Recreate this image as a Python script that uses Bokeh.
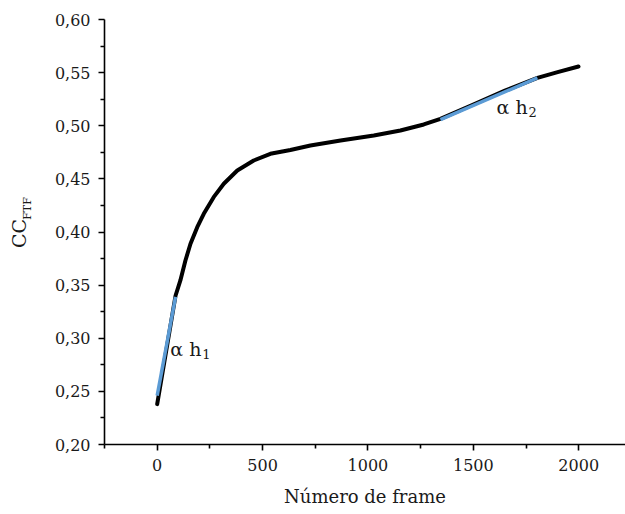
import math
from bokeh.plotting import figure
from bokeh.layouts import row
from bokeh.models import Range1d, FixedTicker, CustomJSTickFormatter, Label
from bokeh.core.properties import value
from bokeh.embed import file_html
from bokeh.resources import INLINE

# Data
frame_x = [0, 87, 110, 134, 158, 190, 221, 268, 316, 380, 458, 537, 632, 727, 870, 1028,
           1154, 1265, 1344, 1500, 1650, 1804, 1900, 1999]
cc_ftf = [0.238, 0.340, 0.3544, 0.3732, 0.3889, 0.4045, 0.4171, 0.4328, 0.4454, 0.4579, 0.4673,
          0.4736, 0.4772, 0.4814, 0.4861, 0.4908, 0.4955, 0.5012, 0.5065, 0.520, 0.533, 0.545,
          0.5505, 0.5558]
h1_x = [0, 87]
h1_y = [0.246, 0.339]
h2_x = [1344, 1804]
h2_y = [0.5058, 0.5450]
x_ticks = [0, 500, 1000, 1500, 2000]
x_minor = [-250, 250, 750, 1250, 1750]
y_ticks = [0.20, 0.25, 0.30, 0.35, 0.40, 0.45, 0.50, 0.55, 0.60]
y_minor = [0.225, 0.275, 0.325, 0.375, 0.425, 0.475, 0.525, 0.575]
ann_text = ["α h", "α h"]
ann_sub = ["1", "2"]
ann_x = [62, 1610]
ann_y = [0.290, 0.518]
y_title = "CC"
y_title_sub = "FTF"

FONT = "DejaVu Serif"
TXT = "#1a1a1a"
LEFT_W = 40
H = 514
TOP, BOTTOM = 19, 70

# Narrow side figure that carries the y-axis title (CC with subscript FTF).
# Its frame is aligned with the main plot's frame by the row layout, so its
# y range is expressed in canvas pixels measured from the bottom.
lf = figure(width=LEFT_W, height=H, output_backend="svg", toolbar_location=None,
            x_range=Range1d(0, LEFT_W), y_range=Range1d(BOTTOM, H - TOP),
            x_axis_location=None, y_axis_location=None, min_border=0,
            min_border_top=TOP, min_border_bottom=BOTTOM)
lf.outline_line_color = None
lf.xgrid.visible = False
lf.ygrid.visible = False
lf.background_fill_color = "white"
lf.border_fill_color = "white"
lf.add_layout(Label(x=18, y=H - 233, text=y_title, angle=math.pi / 2,
                    text_font=FONT, text_font_size="19px", text_color=TXT,
                    text_align="center", text_baseline="middle"))
lf.add_layout(Label(x=27, y=H - 208, text=y_title_sub, angle=math.pi / 2,
                    text_font=FONT, text_font_size="11px", text_color=TXT,
                    text_align="center", text_baseline="middle"))

p = figure(width=625 - LEFT_W, height=H, output_backend="svg", toolbar_location=None,
           x_range=Range1d(-250, 2222), y_range=Range1d(0.20, 0.60),
           min_border_left=104 - LEFT_W, min_border_right=0, min_border_top=TOP,
           min_border_bottom=BOTTOM)
p.outline_line_color = None
p.xgrid.visible = False
p.ygrid.visible = False
p.background_fill_color = "white"
p.border_fill_color = "white"

p.xaxis.ticker = FixedTicker(ticks=x_ticks, minor_ticks=x_minor)
p.yaxis.ticker = FixedTicker(ticks=y_ticks, minor_ticks=y_minor)
p.yaxis.formatter = CustomJSTickFormatter(code="return tick.toFixed(2).replace('.', ',');")

for ax in (p.xaxis, p.yaxis):
    ax.axis_line_color = "black"
    ax.axis_line_width = 1.6
    ax.major_tick_line_color = "black"
    ax.minor_tick_line_color = "black"
    ax.major_tick_line_width = 1.6
    ax.minor_tick_line_width = 1.6
    ax.major_tick_in = 0
    ax.major_tick_out = 6
    ax.minor_tick_in = 0
    ax.minor_tick_out = 4
    ax.major_label_text_font = FONT
    ax.major_label_text_font_size = "16px"
    ax.major_label_text_color = TXT
    ax.major_label_standoff = 8

p.xaxis.axis_label = "Número de frame"
p.xaxis.axis_label_text_font = FONT
p.xaxis.axis_label_text_font_size = "18px"
p.xaxis.axis_label_text_font_style = "normal"
p.xaxis.axis_label_text_color = TXT
p.xaxis.axis_label_standoff = 12

p.line(frame_x, cc_ftf, line_color="black", line_width=4, line_cap="round", line_join="round")
p.line(h1_x, h1_y, line_color="#5b9bd5", line_width=3.5)
p.line(h2_x, h2_y, line_color="#5b9bd5", line_width=3.5)

p.text(ann_x, ann_y, text=ann_text, text_font=value(FONT), text_font_size="19px",
       text_color=TXT, text_baseline="middle", text_align="left")
p.text(ann_x, ann_y, text=ann_sub, text_font=value(FONT), text_font_size="13px",
       text_color=TXT, text_baseline="middle", text_align="left", x_offset=32, y_offset=5)

layout = row(lf, p, spacing=0)

open("out.html", "w").write(file_html(layout, INLINE))
